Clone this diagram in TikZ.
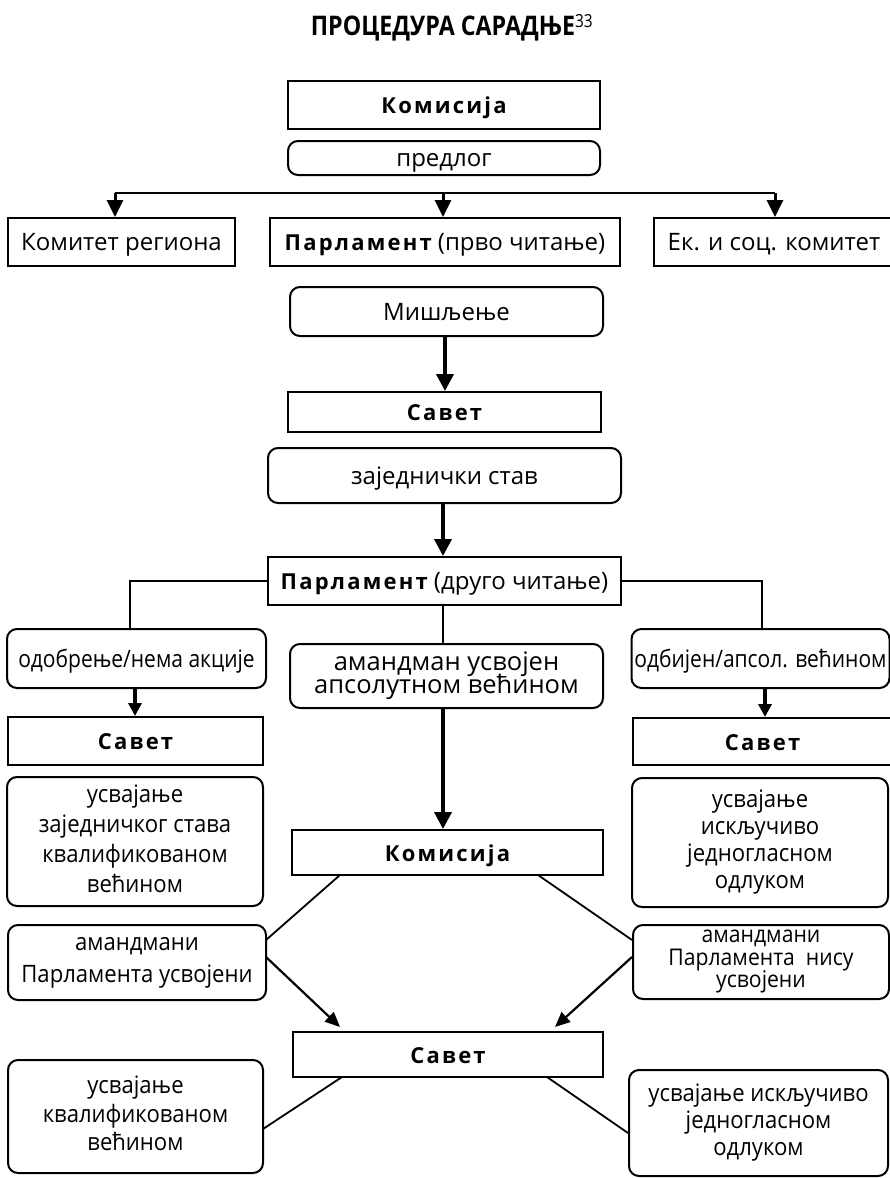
\documentclass[tikz,border=0pt]{standalone}
\usepackage{fontspec}
\setmainfont{Open Sans}
\newfontfamily\titlefont{Open Sans}[FakeStretch=0.86]
\newfontfamily\spfont{Open Sans}[LetterSpace=10]
\newfontfamily\nfont{Open Sans}[FakeStretch=0.92]
\newfontfamily\nnfont{Open Sans}[FakeStretch=0.875]
\usetikzlibrary{arrows.meta}
\newcommand\bw[1]{{\spfont\bfseries\fontsize{22}{26}\selectfont #1}}
\newcommand\st{\rule[-0.25em]{0pt}{1.214em}}
\lineskiplimit=-100pt
\begin{document}
\begin{tikzpicture}[x=1pt,y=-1pt,
  every node/.style={font=\fontsize{24}{30}\selectfont, inner sep=0pt, align=center,
    execute at begin node=\st, execute at end node=\st},
  sbox/.style={draw, line width=2pt},
  rbox/.style={draw, line width=2pt, rounded corners=10pt},
  thk/.style={line width=3.8pt, -{Triangle[length=17pt,width=17pt]}},
  med/.style={line width=3pt, -{Triangle[length=17pt,width=16pt]}},
  sml/.style={line width=3.5pt, -{Triangle[length=13pt,width=13pt]}},
  dia/.style={line width=2.2pt, -{Triangle[length=15pt,width=13pt]}},
  thn/.style={line width=1.8pt},
  hln/.style={line width=2.5pt}]
\clip (0,0) rectangle (890,1178);
\fill[white] (0,0) rectangle (890,1178);

% title
\node[anchor=base] (title) at (443,35) {\titlefont\bfseries\fontsize{27}{30}\selectfont ПРОЦЕДУРА САРАДЊЕ\rlap{\raisebox{8pt}{\mdseries\fontsize{18}{18}\selectfont 33}}};

% top
\node[sbox, minimum width=312, minimum height=48] (kom1) at (444,105) {\bw{Комисија}};
\node[rbox, minimum width=312, minimum height=34] (pred) at (444,158) {предлог};

\node[sbox, minimum width=227, minimum height=48] (kr) at (121.5,242) {Комитет региона};
\node[sbox, minimum width=350, minimum height=48] (parl1) at (445,242) {\bw{Парламент} (прво читање)};
\node[sbox, minimum width=240, minimum height=48] (eks) at (774,242) {Ек. и соц. комитет};

\coordinate (hl) at (115,193);
\coordinate (hm) at (443,193);
\coordinate (hr) at (775,193);
\draw[hln] (hl) -- (hr);
\draw[med] (hl) -- (hl |- kr.north);
\draw[med] (hm) -- (hm |- parl1.north);
\draw[med] (hr) -- (hr |- eks.north);

\node[rbox, minimum width=313, minimum height=49] (mis) at (446.5,311.5) {Мишљење};
\node[sbox, minimum width=313, minimum height=40] (sav1) at (444.5,412) {\bw{Савет}};
\draw[thk] (mis.south -| 445,0) -- (sav1.north -| 445,0);

\node[rbox, minimum width=353, minimum height=55] (zaj) at (444.5,475.5) {заједнички став};
\node[sbox, minimum width=353, minimum height=48] (parl2) at (444.5,581) {\bw{Парламент} (друго читање)};
\draw[thk] (zaj.south -| 443,0) -- (parl2.north -| 443,0);

% left branch
\node[rbox, minimum width=259, minimum height=59, font=\nnfont\fontsize{24}{30}\selectfont] (odob) at (136.5,658.5) {одобрење/нема акције};
\coordinate (lc) at (130,581);
\draw[thn] (parl2.west) -- (lc) -- (lc |- odob.north);
\node[sbox, minimum width=255, minimum height=48] (sav2) at (135.5,741) {\bw{Савет}};
\draw[sml] (odob.south -| 135,0) -- (sav2.north -| 135,0);
\node[rbox, minimum width=256, minimum height=129, font=\nfont\fontsize{24}{30}\selectfont] (usv1) at (135,841.5) {усвајање\\заједничког става\\квалификованом\\већином};

% right branch
\node[rbox, minimum width=258, minimum height=59, font=\nnfont\fontsize{24}{30}\selectfont] (odbij) at (760.5,658.5) {одбијен/апсол. већином};
\coordinate (rc) at (762,581);
\draw[thn] (parl2.east) -- (rc) -- (rc |- odbij.north);
\node[sbox, minimum width=259, minimum height=47] (sav3) at (762.5,741.5) {\bw{Савет}};
\draw[sml] (odbij.south -| 765,0) -- (sav3.north -| 765,0);
\node[rbox, minimum width=256, minimum height=129, font=\nfont\fontsize{24}{27}\selectfont] (usv2) at (760,842.5) {усвајање\\искључиво\\једногласном\\одлуком};

% middle
\node[rbox, minimum width=313, minimum height=64, font=\fontsize{25.5}{23.5}\selectfont] (amand) at (446.5,676) {амандман усвојен\\апсолутном већином};
\draw[thn] (parl2.south -| 443,0) -- (amand.north -| 443,0);
\node[sbox, minimum width=311, minimum height=45] (kom2) at (447.5,852.5) {\bw{Комисија}};
\draw[thk] (amand.south -| 443,0) -- (kom2.north -| 443,0);

\node[rbox, minimum width=258, minimum height=75, font=\nfont\fontsize{24}{32}\selectfont] (aml) at (137,962.5) {амандмани\\Парламента усвојени};
\node[rbox, minimum width=256, minimum height=74, font=\nfont\fontsize{23}{22.5}\selectfont] (amr) at (761,962) {амандмани\\Парламента\ \ нису\\усвојени};

\coordinate (k2l) at (340,875);
\coordinate (k2r) at (538,875);
\coordinate (amlc) at (266,940);
\coordinate (amrc) at (632,940);
\draw[thn] (k2l) -- (amlc);
\draw[thn] (k2r) -- (amrc);

\node[sbox, minimum width=310, minimum height=45] (sav4) at (448,1054.5) {\bw{Савет}};
\coordinate (aml2) at (266,957);
\coordinate (amr2) at (632,957);
\coordinate (s4l) at (340,1027);
\coordinate (s4r) at (555,1027);
\draw[dia] (aml2) -- (s4l);
\draw[dia] (amr2) -- (s4r);

\node[rbox, minimum width=255, minimum height=113, font=\nfont\fontsize{24}{28.5}\selectfont] (usv3) at (135.5,1116.5) {усвајање\\квалификованом\\већином};
\node[rbox, minimum width=259, minimum height=106, font=\nfont\fontsize{24}{27}\selectfont] (usv4) at (758.5,1123) {усвајање искључиво\\једногласном\\одлуком};
\coordinate (s4bl) at (342,1077);
\coordinate (s4br) at (547,1077);
\coordinate (u3c) at (263,1129);
\coordinate (u4c) at (628,1133);
\draw[thn] (s4bl) -- (u3c);
\draw[thn] (s4br) -- (u4c);
\end{tikzpicture}
\end{document}
